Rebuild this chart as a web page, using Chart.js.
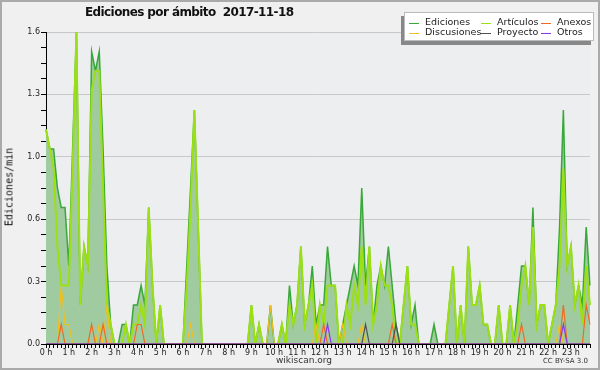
<!DOCTYPE html>
<html>
<head>
<meta charset="utf-8">
<script src="https://cdn.jsdelivr.net/npm/chart.js@4.4.0/dist/chart.umd.min.js"></script>
<style>
  body { margin: 0; background: #f0f0f0; }
  #wrap { position: relative; width: 600px; height: 370px; background: #f0f0f0; overflow: hidden; }
  #chart { position: absolute; left: 0; top: 0; }
  #frame { position: absolute; left: 0; top: 0; right: 0; bottom: 0; border: 2px solid #aaa; pointer-events: none; }
  .title { position: absolute; left: 85px; top: 5px; font: bold 12px "DejaVu Sans", sans-serif; letter-spacing: -0.6px; color: #111; white-space: pre; }
  .ytitle { position: absolute; left: 9px; top: 187px; transform: translate(-50%, -50%) rotate(-90deg); font: 10px "DejaVu Sans Mono", monospace; color: #111; white-space: nowrap; }
  .legend { position: absolute; left: 404px; top: 12px; width: 188px; height: 27px; background: #fff; border: 1px solid #bbb; box-shadow: -3px 4px 0 #888; font: 9.5px "DejaVu Sans", sans-serif; color: #222; }
  .legend span { position: absolute; white-space: nowrap; }
  .legend i { position: absolute; width: 10px; height: 0; border-top: 1px solid; }
  .foot { position: absolute; top: 355px; font: 9px "DejaVu Sans", sans-serif; color: #333; }
  .cc { position: absolute; right: 12px; top: 357px; font: 7px "DejaVu Sans", sans-serif; color: #333; }
</style>
</head>
<body>
<div id="wrap">
  <canvas id="chart" width="600" height="370"></canvas>
  <div class="title">Ediciones por ámbito  2017-11-18</div>
  <div class="ytitle">Ediciones/min</div>
  <div class="legend" id="legend"></div>
  <div class="foot" style="left:276px">wikiscan.org</div>
  <div class="cc">CC BY-SA 3.0</div>
  <div id="frame"></div>
</div>
<script>
// 10-minute bins, one tick per bin, hour labels every 6 bins
const hours = ['0 h','1 h','2 h','3 h','4 h','5 h','6 h','7 h','8 h','9 h','10 h','11 h',
               '12 h','13 h','14 h','15 h','16 h','17 h','18 h','19 h','20 h','21 h','22 h','23 h'];
const yTickLabels = ['0.0', '0.3', '0.6', '1.0', '1.3', '1.6'];

// values in edits/min, 12 bins (2 hours) per row
const ediciones = [
  1.1,1.0,1.0,0.8,0.7,0.7,0.4,1.0,1.6,0.2,0.5,0.4,
  1.5,1.4,1.5,1.0,0.4,0.1,0,0,0.1,0.1,0,0.2,
  0.2,0.3,0.2,0.7,0.3,0,0.2,0,0,0,0,0,
  0,0.4,0.8,1.2,0.6,0,0,0,0,0,0,0,
  0,0,0,0,0,0,0.2,0,0.1,0,0,0.2,
  0,0,0.1,0,0.3,0.1,0.2,0.5,0.1,0.2,0.4,0.1,
  0.2,0.2,0.5,0.3,0.3,0,0.1,0.2,0.3,0.4,0.3,0.8,
  0.3,0.5,0.1,0.3,0.4,0.3,0.5,0.3,0.1,0,0.2,0.4,
  0.1,0.2,0,0,0,0,0.1,0,0,0,0.2,0.4,
  0,0.2,0,0.5,0.2,0.2,0.3,0.1,0.1,0,0,0.2,
  0,0,0.2,0,0.2,0.4,0.4,0.2,0.7,0.1,0.2,0.2,
  0,0.1,0.2,0.6,1.2,0.4,0.5,0.2,0.3,0.2,0.6,0.3
];
const articulos = [
  1.1,1.0,0.9,0.5,0.3,0.3,0.3,0.9,1.6,0.2,0.5,0.4,
  1.3,1.4,1.4,0.8,0.2,0.1,0,0,0,0.1,0,0.1,
  0.1,0.2,0.1,0.7,0.3,0,0.2,0,0,0,0,0,
  0,0.3,0.7,1.2,0.6,0,0,0,0,0,0,0,
  0,0,0,0,0,0,0.2,0,0.1,0,0,0,
  0,0,0.1,0,0.2,0.1,0.2,0.5,0.1,0.2,0.3,0,
  0.2,0.1,0.3,0.3,0.3,0,0,0.2,0.1,0.3,0.2,0.5,
  0.2,0.5,0.1,0.2,0.4,0.3,0.3,0.2,0,0,0.2,0.4,
  0.1,0.1,0,0,0,0,0,0,0,0,0.2,0.4,
  0,0.2,0,0.5,0.2,0.2,0.3,0.1,0.1,0,0,0.2,
  0,0,0.2,0,0.1,0.3,0.4,0.2,0.6,0.1,0.2,0.2,
  0,0.1,0.2,0.4,0.9,0.4,0.5,0.2,0.3,0.1,0.4,0.2
];
const anexos = [
  0,0,0,0,0.1,0,0,0,0,0,0,0,
  0.1,0,0,0.1,0,0,0,0,0,0,0,0,
  0.1,0.1,0,0,0,0,0,0,0,0,0,0,
  0,0,0,0,0,0,0,0,0,0,0,0,
  0,0,0,0,0,0,0,0,0,0,0,0,
  0,0,0,0,0,0,0,0,0,0,0,0,
  0,0.1,0,0,0,0,0,0,0,0,0,0,
  0,0,0,0,0,0,0,0.1,0,0,0,0,
  0,0,0,0,0,0,0,0,0,0,0,0,
  0,0,0,0,0,0,0,0,0,0,0,0,
  0,0,0,0,0,0.1,0,0,0,0,0,0,
  0,0,0,0,0.2,0,0,0,0,0,0.2,0.1
];
const discusiones = [
  0,0,0,0,0.3,0.1,0.1,0,0,0,0,0,
  0,0,0.1,0,0.2,0,0,0,0,0,0,0,
  0,0,0,0,0,0,0,0,0,0,0,0,
  0,0,0.1,0,0,0,0,0,0,0,0,0,
  0,0,0,0,0,0,0,0,0,0,0,0.2,
  0,0,0,0,0,0,0,0,0,0,0,0.1,
  0,0,0,0,0,0,0.1,0,0,0,0,0.1,
  0,0,0,0,0,0,0,0,0,0,0,0,
  0,0,0,0,0,0,0,0,0,0,0,0,
  0,0,0,0,0,0,0,0,0,0,0,0,
  0,0,0,0,0,0,0,0,0,0,0,0,
  0,0,0,0.1,0,0,0,0,0,0,0,0
];
const proyecto = [
  0,0,0,0,0,0,0,0,0,0,0,0,
  0,0,0,0,0,0,0,0,0,0,0,0,
  0,0,0,0,0,0,0,0,0,0,0,0,
  0,0,0,0,0,0,0,0,0,0,0,0,
  0,0,0,0,0,0,0,0,0,0,0,0,
  0,0,0,0,0,0,0,0,0,0,0,0,
  0,0,0,0,0,0,0,0,0,0,0,0,
  0.1,0,0,0,0,0,0,0,0.1,0,0,0,
  0,0,0,0,0,0,0,0,0,0,0,0,
  0,0,0,0,0,0,0,0,0,0,0,0,
  0,0,0,0,0,0,0,0,0,0,0,0,
  0,0,0,0,0,0,0,0,0,0,0,0
];
const otros = [
  0,0,0,0,0,0,0,0,0,0,0,0,
  0,0,0,0,0,0,0,0,0,0,0,0,
  0,0,0,0,0,0,0,0,0,0,0,0,
  0,0,0,0,0,0,0,0,0,0,0,0,
  0,0,0,0,0,0,0,0,0,0,0,0,
  0,0,0,0,0,0,0,0,0,0,0,0,
  0,0,0.1,0,0,0,0,0,0,0,0,0,
  0,0,0,0,0,0,0,0,0,0,0,0,
  0,0,0,0,0,0,0,0,0,0,0,0,
  0,0,0,0,0,0,0,0,0,0,0,0,
  0,0,0,0,0,0,0,0,0,0,0,0,
  0,0,0,0,0.1,0,0,0,0,0,0,0
];

const colors = {
  ediciones: '#38a838', fill: '#a0caa0', articulos: '#9ce014',
  anexos: '#f06a22', discusiones: '#f0c020', proyecto: '#505050', otros: '#8a38e8'
};

// one label per bin, hour name on the full hour
const labels = [];
hours.forEach(h => { labels.push(h); for (let k = 0; k < 5; k++) labels.push(''); });

// legend (3 columns x 2 rows)
const legendItems = [
  ['Ediciones', colors.ediciones, 20, 4], ['Artículos', colors.articulos, 92, 4], ['Anexos', colors.anexos, 152, 4],
  ['Discusiones', colors.discusiones, 20, 14], ['Proyecto', colors.proyecto, 92, 14], ['Otros', colors.otros, 152, 14]
];
const legend = document.getElementById('legend');
legendItems.forEach(([name, c, x, y]) => {
  const line = document.createElement('i');
  line.style.cssText = `left:${x - 16}px;top:${y + 6}px;border-color:${c}`;
  const txt = document.createElement('span');
  txt.style.cssText = `left:${x}px;top:${y - 1}px`;
  txt.textContent = name;
  legend.appendChild(line);
  legend.appendChild(txt);
});

const plotBg = {
  id: 'plotBg',
  beforeDraw(chart) {
    const a = chart.chartArea, ctx = chart.ctx;
    ctx.save();
    ctx.fillStyle = '#eceef0';
    ctx.fillRect(a.left, a.top, a.right - a.left, a.bottom - a.top);
    ctx.restore();
  }
};

function line(data, color, width, order, extra) {
  return Object.assign({
    data: data, borderColor: color, borderWidth: width, order: order,
    pointRadius: 0, tension: 0, fill: false
  }, extra || {});
}

const tickFont = { family: 'DejaVu Sans', size: 8 };

new Chart(document.getElementById('chart'), {
  type: 'line',
  data: {
    labels: labels,
    datasets: [
      line(ediciones, colors.ediciones, 1.5, 6, { fill: 'origin', backgroundColor: colors.fill }),
      line(articulos, colors.articulos, 2, 5),
      line(discusiones, colors.discusiones, 1.2, 4),
      line(anexos, colors.anexos, 1.2, 3),
      line(proyecto, colors.proyecto, 1.2, 2),
      line(otros, colors.otros, 1.2, 1)
    ]
  },
  options: {
    responsive: false,
    animation: false,
    layout: { padding: { left: 0, top: 32, right: 10, bottom: 0 } },
    plugins: { legend: { display: false }, tooltip: { enabled: false } },
    scales: {
      x: {
        z: 1,
        offset: false,
        afterFit: s => { s.height = 26; },
        border: { color: '#000', width: 1 },
        grid: { drawOnChartArea: false, color: '#000', tickColor: '#000', tickLength: 4 },
        ticks: { autoSkip: false, maxRotation: 0, padding: 0, color: '#222', font: tickFont }
      },
      y: {
        min: 0, max: 1.6,
        afterFit: s => { s.width = 46; },
        border: { color: '#000', width: 1 },
        grid: {
          color: ctx => ctx.index % 4 === 0 ? '#c8c8c8' : 'rgba(0,0,0,0)',
          tickColor: '#000', tickLength: 5
        },
        ticks: {
          stepSize: 0.08, padding: 1, color: '#222', font: tickFont,
          callback: (v, i) => i % 4 === 0 ? yTickLabels[i / 4] : ''
        }
      }
    }
  },
  plugins: [plotBg]
});
</script>
</body>
</html>
